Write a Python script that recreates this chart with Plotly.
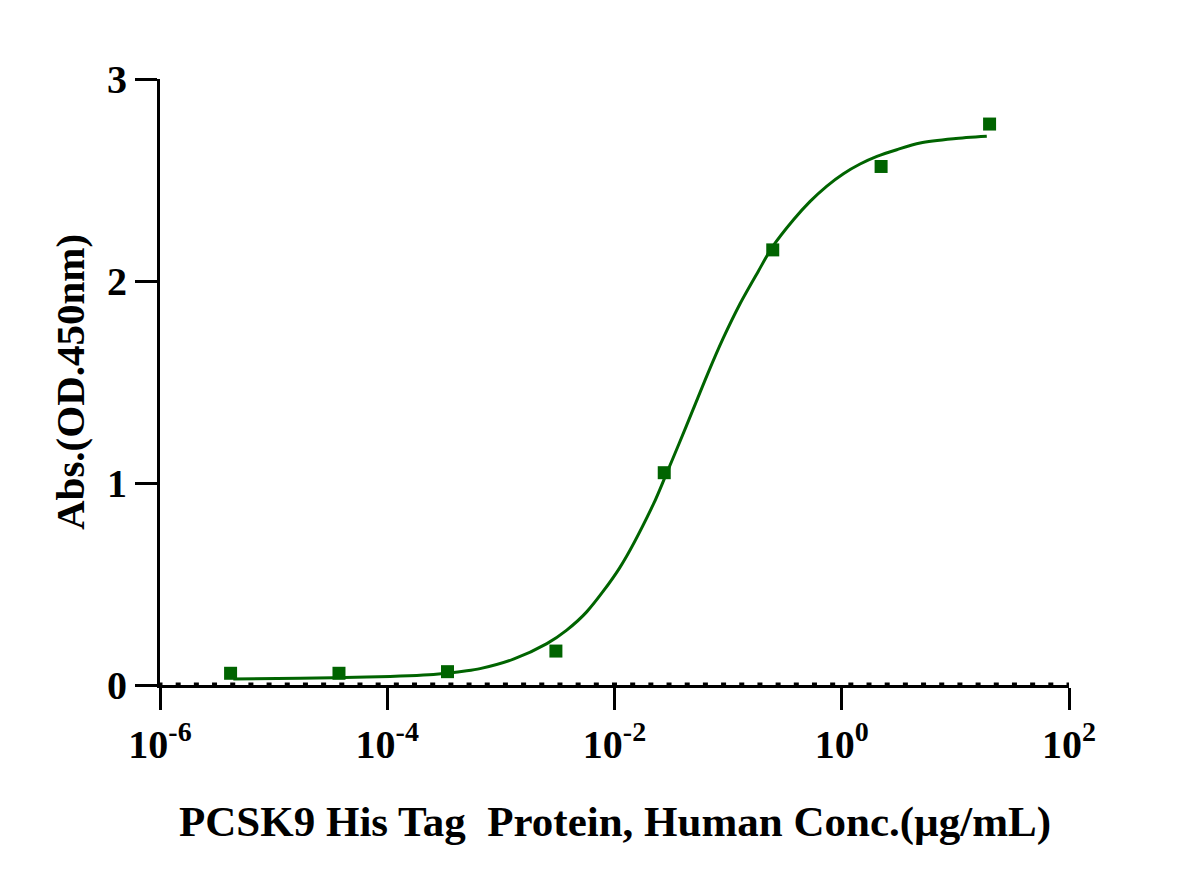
import plotly.graph_objects as go

# pontos medidos (conc. em ug/mL, absorbancia OD450)
conc = [0.00000418, 0.0000376, 0.000339, 0.00305, 0.0274, 0.247, 2.22, 20]
absorb = [0.058, 0.058, 0.066, 0.168, 1.051, 2.154, 2.567, 2.777]

# curva ajustada
curva_conc = [4.42e-6, 1.71e-5, 6.61e-5, 2.55e-4, 5.01e-4, 6.56e-4, 1.29e-3, 2.54e-3,
              3.80e-3, 5.69e-3, 0.0111, 0.0220, 0.0279, 0.0372, 0.0495, 0.0658,
              0.0897, 0.128, 0.185, 0.243, 0.376, 0.527, 0.740, 1.035, 1.45,
              2.04, 3.05, 4.90, 9.62, 18.9]
curva_abs = [0.030, 0.033, 0.039, 0.052, 0.070, 0.081, 0.128, 0.205,
             0.272, 0.362, 0.580, 0.895, 1.030, 1.198, 1.368, 1.538,
             1.712, 1.890, 2.050, 2.165, 2.303, 2.394, 2.470, 2.531, 2.579,
             2.617, 2.650, 2.683, 2.704, 2.716]

x_ticks = [1e-6, 1e-4, 1e-2, 1, 100]
x_labels = ["10<sup>-6</sup>", "10<sup>-4</sup>", "10<sup>-2</sup>", "10<sup>0</sup>", "10<sup>2</sup>"]
y_ticks = [0, 1, 2, 3]

verde = "#006400"
fonte = "Liberation Serif, Times New Roman, serif"

fig = go.Figure()

fig.add_trace(go.Scatter(
    x=curva_conc, y=curva_abs,
    mode="lines",
    line=dict(color=verde, width=3, shape="spline", smoothing=0.8),
    showlegend=False, hoverinfo="skip"
))

fig.add_trace(go.Scatter(
    x=conc, y=absorb,
    mode="markers",
    marker=dict(symbol="square", size=13, color=verde),
    showlegend=False, cliponaxis=False
))

# linha pontilhada sobre o eixo x
fig.add_shape(
    type="line", xref="paper", yref="y",
    x0=-2.5 / 909, x1=1, y0=0, y1=0,
    line=dict(color="black", width=5, dash="5px,13.18px"),
    layer="above"
)

# a pagina tem margem de 8px no body, por isso 1192x880
fig.update_layout(
    width=1192, height=880,
    margin=dict(l=152, r=131, t=71, b=203),
    plot_bgcolor="white", paper_bgcolor="white",
    font=dict(family=fonte, color="black"),
    xaxis=dict(
        type="log", range=[-6, 2],
        tickvals=x_ticks, ticktext=x_labels,
        ticks="outside", ticklen=22, tickwidth=3, tickcolor="black",
        showline=True, linewidth=3, linecolor="black",
        showgrid=False, zeroline=False,
        tickfont=dict(size=40, family=fonte, weight="bold")
    ),
    yaxis=dict(
        range=[0, 3], tickvals=y_ticks,
        ticks="outside", ticklen=22, tickwidth=3, tickcolor="black",
        showline=True, linewidth=3, linecolor="black",
        showgrid=False, zeroline=False,
        tickfont=dict(size=40, family=fonte, weight="bold")
    )
)

fig.add_annotation(
    text="<b>Abs.(OD.450nm)</b>", textangle=-90,
    xref="paper", yref="paper", x=(70 - 160) / 909, y=0.5,
    xanchor="center", yanchor="middle", showarrow=False,
    font=dict(size=41, family=fonte)
)

fig.add_annotation(
    text="<b>PCSK9 His Tag  Protein, Human Conc.(µg/mL)</b>",
    xref="paper", yref="paper", x=(615 - 160) / 909, y=(685 - 822) / 606,
    xanchor="center", yanchor="middle", showarrow=False,
    font=dict(size=43, family=fonte)
)

fig.write_html("out.html")
